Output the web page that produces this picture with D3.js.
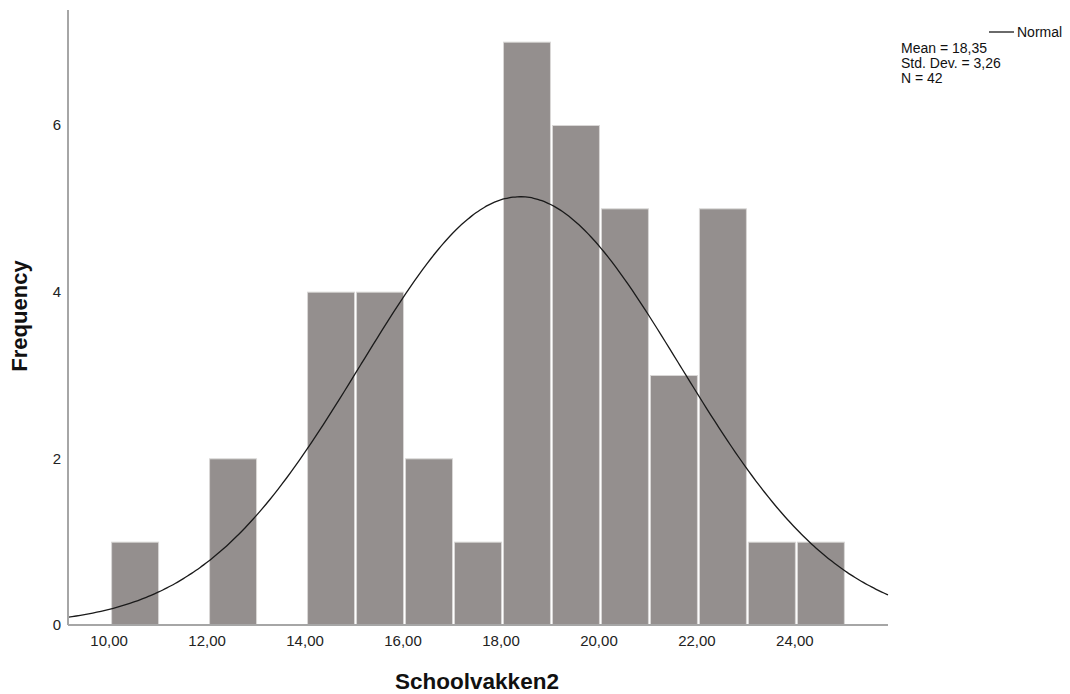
<!DOCTYPE html>
<html>
<head>
<meta charset="utf-8">
<script src="https://cdn.jsdelivr.net/npm/d3@7"></script>
<style>
  html, body { margin: 0; padding: 0; background: #fff; }
  svg { display: block; font-family: Arial, "Liberation Sans", sans-serif; }
</style>
</head>
<body>
<svg id="chart" width="1070" height="694"></svg>
<script>
// Histogram bins (lower edge, width 1) and their counts
const binStarts = [10, 11, 12, 13, 14, 15, 16, 17, 18, 19, 20, 21, 22, 23, 24];
const binCounts = [1, 0, 2, 0, 4, 4, 2, 1, 7, 6, 5, 3, 5, 1, 1];
const binWidth = 1;

// Summary statistics
const mean = 18.35;
const stdDev = 3.26;
const n = 42;

const xTicks = [10, 12, 14, 16, 18, 20, 22, 24];
const yTicks = [0, 2, 4, 6];

const svg = d3.select("#chart");
const plot = { left: 68, right: 888, top: 10, bottom: 625 };

const x = d3.scaleLinear().domain([9.12, 25.86]).range([plot.left, plot.right]);
const y = d3.scaleLinear().domain([0, 7.38]).range([plot.bottom, plot.top]);

const fmt = v => d3.format(".2f")(v).replace(".", ",");

// Bars
const bins = binStarts.map((s, i) => ({ x0: s, x1: s + binWidth, count: binCounts[i] }))
  .filter(d => d.count > 0);
svg.append("g").selectAll("rect").data(bins).join("rect")
  .attr("x", d => x(d.x0) + 0.5)
  .attr("width", d => x(d.x1) - x(d.x0) - 2)
  .attr("y", d => y(d.count) + 0.5)
  .attr("height", d => y(0) - y(d.count) - 0.5)
  .attr("fill", "#948f8e")
  .attr("stroke", "#d9d7d6")
  .attr("stroke-width", 1);

// Normal curve scaled to the counts
const pdf = v => n * binWidth * Math.exp(-0.5 * ((v - mean) / stdDev) ** 2) / (stdDev * Math.sqrt(2 * Math.PI));
const xs = d3.range(200).map(i => 9.12 + i * (25.86 - 9.12) / 199);
svg.append("path")
  .datum(xs)
  .attr("fill", "none")
  .attr("stroke", "#1a1a1a")
  .attr("stroke-width", 1.3)
  .attr("d", d3.line().x(v => x(v)).y(v => y(pdf(v))).curve(d3.curveBasis));

// Axes
const xAxis = svg.append("g").attr("transform", `translate(0,${plot.bottom})`)
  .call(d3.axisBottom(x).tickValues(xTicks).tickFormat(fmt).tickSize(0).tickPadding(10));
const yAxis = svg.append("g").attr("transform", `translate(${plot.left},0)`)
  .call(d3.axisLeft(y).tickValues(yTicks).tickFormat(d3.format("d")).tickSize(0).tickPadding(7));
[xAxis, yAxis].forEach(g => {
  g.select(".domain").attr("stroke", "#a6a6a6").attr("stroke-width", 2);
  g.selectAll("text").attr("fill", "#222").attr("font-size", 15).attr("font-family", "Arial, 'Liberation Sans', sans-serif");
});
xAxis.selectAll(".tick text").attr("dx", -2.5);
xAxis.select(".domain").attr("d", `M${plot.left},0H${plot.right}`);
yAxis.select(".domain").attr("d", `M0,${plot.top}V${plot.bottom}`);

// Axis titles
svg.append("text")
  .attr("x", 477).attr("y", 689)
  .attr("text-anchor", "middle")
  .attr("font-size", 22.5).attr("font-weight", "bold").attr("fill", "#111")
  .text("Schoolvakken2");
svg.append("text")
  .attr("transform", `translate(27,316) rotate(-90)`)
  .attr("text-anchor", "middle")
  .attr("font-size", 22).attr("font-weight", "bold").attr("fill", "#111")
  .text("Frequency");

// Legend
const lg = svg.append("g");
lg.append("line").attr("x1", 989).attr("x2", 1014).attr("y1", 32).attr("y2", 32)
  .attr("stroke", "#1a1a1a").attr("stroke-width", 1.3);
lg.append("text").attr("x", 1017).attr("y", 37).attr("font-size", 14).attr("fill", "#111").text("Normal");
const stats = [`Mean = ${d3.format(".2f")(mean).replace(".", ",")}`,
               `Std. Dev. = ${d3.format(".2f")(stdDev).replace(".", ",")}`,
               `N = ${n}`];
lg.selectAll("text.stat").data(stats).join("text")
  .attr("class", "stat")
  .attr("x", 901).attr("y", (d, i) => 53 + i * 15)
  .attr("font-size", 14).attr("fill", "#111")
  .text(d => d);
</script>
</body>
</html>
